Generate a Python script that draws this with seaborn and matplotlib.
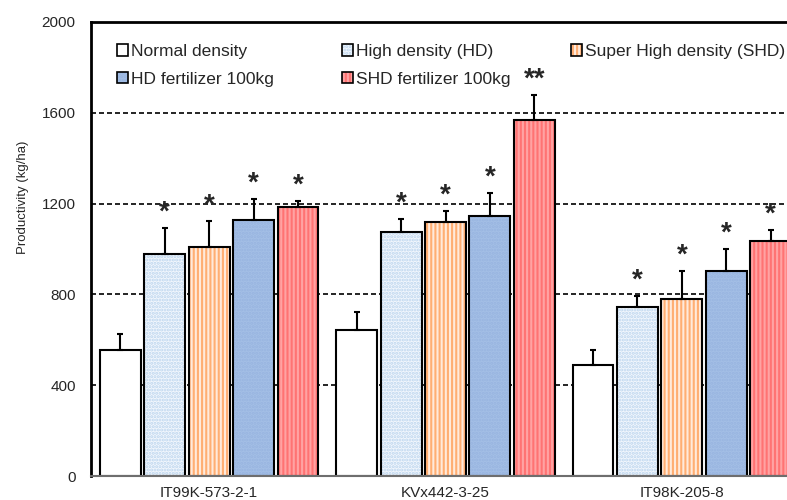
import numpy as np
import pandas as pd
import matplotlib
matplotlib.use("Agg")
import matplotlib.pyplot as plt
from matplotlib.patches import Patch
import seaborn as sns


GENOTYPES = ["IT99K-573-2-1", "KVx442-3-25", "IT98K-205-8"]
TREATMENTS = ["Normal density", "High density (HD)", "Super High density (SHD)",
              "HD fertilizer 100kg", "SHD fertilizer 100kg"]

# Mean productivity (kg/ha), one value per genotype
normal_density = [555, 643, 489]
high_density = [978, 1075, 744]
super_high_density = [1009, 1119, 780]
hd_fertilizer = [1128, 1145, 903]
shd_fertilizer = [1185, 1568, 1035]

# Upper error bars
normal_err = [70, 79, 66]
hd_err = [115, 57, 49]
shd_err = [114, 48, 123]
hd_fert_err = [92, 102, 97]
shd_fert_err = [26, 110, 49]

# Significance marks
normal_sig = ["", "", ""]
hd_sig = ["*", "*", "*"]
shd_sig = ["*", "*", "*"]
hd_fert_sig = ["*", "*", "*"]
shd_fert_sig = ["*", "**", "*"]

Y_TICKS = [0, 400, 800, 1200, 1600, 2000]

MEANS = [normal_density, high_density, super_high_density, hd_fertilizer, shd_fertilizer]
ERRS = [normal_err, hd_err, shd_err, hd_fert_err, shd_fert_err]
SIGS = [normal_sig, hd_sig, shd_sig, hd_fert_sig, shd_fert_sig]

# Bar styling (face colour, hatch, hatch colour)
FACE = ["#ffffff", "#f2f7fd", "#ffeadb", "#a4bfe6", "#ff7373"]
HATCH = [None, ".....", "||||", ".....", "||||"]
HATCH_COLOR = ["#ffffff", "#bcd5ee", "#ffae72", "#97b4e0", "#ffa3a3"]

df = pd.DataFrame({
    "genotype": GENOTYPES * len(TREATMENTS),
    "treatment": [t for t in TREATMENTS for _ in GENOTYPES],
    "yield": [v for vals in MEANS for v in vals],
})

sns.set_style("white")
plt.rcParams["font.family"] = ["Liberation Sans", "DejaVu Sans"]
plt.rcParams["hatch.linewidth"] = 1.5

fig = plt.figure(figsize=(7.87, 5.0), dpi=100)
ax = fig.add_axes([91 / 787, 24 / 500, 709 / 787, 454 / 500])

# filled + hatched bars
sns.barplot(data=df, x="genotype", y="yield", hue="treatment",
            order=GENOTYPES, hue_order=TREATMENTS, palette=FACE,
            saturation=1, width=0.94, gap=0.08, errorbar=None,
            legend=False, ax=ax)
# black outlines on top
sns.barplot(data=df, x="genotype", y="yield", hue="treatment",
            order=GENOTYPES, hue_order=TREATMENTS, palette=["black"] * 5,
            fill=False, width=0.94, gap=0.08, errorbar=None,
            legend=False, ax=ax)

n = len(TREATMENTS)
for cont, hatch, hc in zip(ax.containers[:n], HATCH, HATCH_COLOR):
    for bar in cont:
        bar.set_hatch(hatch)
        bar.set_edgecolor(hc)
        bar.set_linewidth(0)
for cont in ax.containers[n:2 * n]:
    for bar in cont:
        bar.set_facecolor("none")
        bar.set_edgecolor("black")
        bar.set_linewidth(1.5)

# error bars + significance stars
for cont, errs, sigs in zip(ax.containers[:n], ERRS, SIGS):
    xs = [b.get_x() + b.get_width() / 2 for b in cont]
    hs = [b.get_height() for b in cont]
    ax.errorbar(xs, hs, yerr=[np.zeros(len(errs)), errs], fmt="none",
                ecolor="black", elinewidth=1.5, capsize=2, capthick=1.5)
    for x, h, e, s in zip(xs, hs, errs, sigs):
        if s:
            ax.annotate(s, xy=(x, h + e), xytext=(0, 6),
                        textcoords="offset points", ha="center",
                        va="baseline", fontsize=20, fontweight="bold")

ax.set_xlim(-0.5, len(GENOTYPES) - 0.5)
ax.set_ylim(0, 2000)
ax.set_yticks(Y_TICKS)
ax.set_axisbelow(True)
ax.yaxis.grid(True, color="black", linestyle=(0, (3, 1.8)), linewidth=1.2)
ax.xaxis.grid(False)

ax.set_xlabel("")
ax.set_ylabel("Productivity (kg/ha)", fontsize=9.5)
ax.yaxis.set_label_coords(-0.088, 0.6145)
ax.tick_params(axis="y", length=0, pad=11, labelsize=11)
ax.tick_params(axis="x", length=0, pad=7, labelsize=11)

for side in ["top", "left"]:
    ax.spines[side].set_color("black")
    ax.spines[side].set_linewidth(2)
ax.spines["bottom"].set_color("#6e6e6e")
ax.spines["bottom"].set_linewidth(1.5)
ax.spines["right"].set_visible(False)

# legend laid out row-wise in three fixed columns
columns = [[0, 3], [1, 4], [2]]
col_x = [117, 342, 571]
legends = []
for idx, x in zip(columns, col_x):
    handles = [(Patch(facecolor=FACE[i], hatch=HATCH[i], edgecolor=HATCH_COLOR[i], linewidth=0),
                Patch(facecolor="none", edgecolor="black", linewidth=1.2)) for i in idx]
    labels = [TREATMENTS[i] for i in idx]
    leg = ax.legend(handles, labels, loc="upper left",
                    bbox_to_anchor=(x / 787, 1 - 44 / 500),
                    bbox_transform=fig.transFigure, frameon=False,
                    fontsize=12.5, handlelength=0.63, handleheight=0.63,
                    handletextpad=0.2, labelspacing=0.74,
                    borderpad=0, borderaxespad=0)
    legends.append(leg)
for leg in legends[:-1]:
    ax.add_artist(leg)

fig.savefig("out.png", dpi=100)
